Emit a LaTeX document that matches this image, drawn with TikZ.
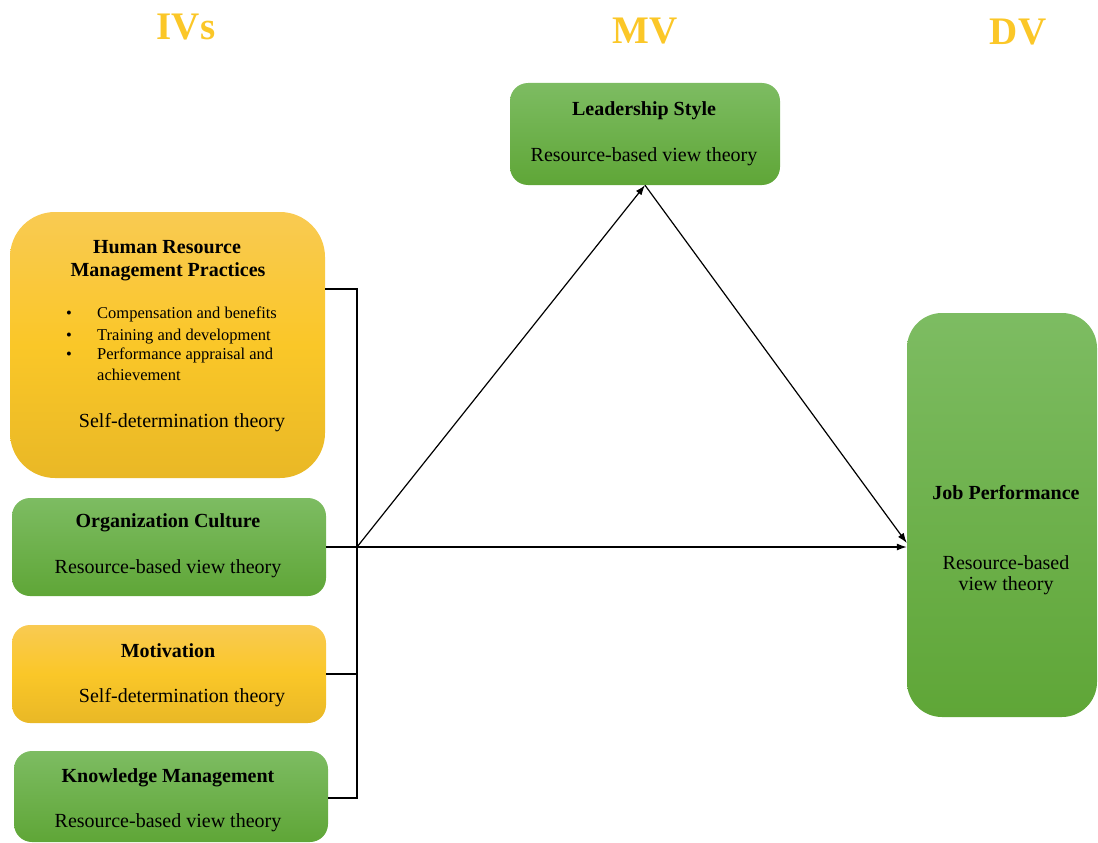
\documentclass[tikz,border=0pt]{standalone}
\usepackage{fontspec}
\setmainfont{Liberation Serif}
\usetikzlibrary{arrows.meta}
\definecolor{greentop}{RGB}{125,188,98}
\definecolor{greenbot}{RGB}{95,166,55}
\definecolor{goldtop}{RGB}{249,202,82}
\definecolor{goldmid}{RGB}{250,199,40}
\definecolor{goldbot}{RGB}{233,184,38}
\definecolor{headgold}{RGB}{251,199,40}
\tikzset{
  greenbox/.style={rounded corners=18pt, top color=greentop, bottom color=greenbot, draw=none, inner sep=0pt},
  goldbox/.style={rounded corners=18pt, top color=goldtop, bottom color=goldbot, middle color=goldmid, draw=none, inner sep=0pt},
  heading/.style={anchor=base, text=headgold, font=\fontsize{39}{44}\selectfont\bfseries},
  boxtitle/.style={anchor=base, inner sep=0pt, font=\fontsize{20}{24}\selectfont\bfseries},
  boxtext/.style={anchor=base, inner sep=0pt, font=\fontsize{20}{24}\selectfont},
  itemtext/.style={anchor=base west, inner sep=0pt, font=\fontsize{16.5}{20}\selectfont},
  linkline/.style={line width=1.2pt},
  arrowline/.style={line width=1.2pt, -{Latex[length=10pt,width=7pt]}}
}
\begin{document}
\begin{tikzpicture}[x=1pt,y=-1pt]
  \useasboundingbox (0,0) rectangle (1098,843);
  % headings
  \node[heading] at (186,40) (ivs) {IVs};
  \node[heading] at (645,44) (mv) {MV};
  \node[heading] at (1018,45) (dv) {DV};
  % boxes
  \node[goldbox, rounded corners=45pt, minimum width=315pt, minimum height=266pt] at (167.5,345) (hrm) {};
  \node[greenbox, minimum width=314pt, minimum height=98pt] at (169,547) (oc) {};
  \node[goldbox, minimum width=314pt, minimum height=98pt] at (169,674) (mot) {};
  \node[greenbox, minimum width=314pt, minimum height=91pt] at (171,796.5) (km) {};
  \node[greenbox, minimum width=270pt, minimum height=102pt] at (645,134) (ls) {};
  \node[greenbox, rounded corners=35pt, minimum width=190pt, minimum height=404pt] at (1002,515) (jp) {};
  % box texts
  \node[boxtitle] at (167,253) (hrm1) {Human Resource};
  \node[boxtitle] at (168,276) (hrm2) {Management Practices};
  \node[itemtext] at (66,318) (dot1) {\textbullet};
  \node[itemtext] at (97,318) (item1) {Compensation and benefits};
  \node[itemtext] at (66,340) (dot2) {\textbullet};
  \node[itemtext] at (97,340) (item2) {Training and development};
  \node[itemtext] at (66,359) (dot3) {\textbullet};
  \node[itemtext] at (97,359) (item3) {Performance appraisal and};
  \node[itemtext] at (97,380) (item4) {achievement};
  \node[boxtext] at (182,427) (hrmth) {Self-determination theory};
  \node[boxtitle] at (168,527) (oc1) {Organization Culture};
  \node[boxtext] at (168,573) (octh) {Resource-based view theory};
  \node[boxtitle] at (168,657) (mot1) {Motivation};
  \node[boxtext] at (182,702) (motth) {Self-determination theory};
  \node[boxtitle] at (168,782) (km1) {Knowledge Management};
  \node[boxtext] at (168,827) (kmth) {Resource-based view theory};
  \node[boxtitle] at (644,115) (ls1) {Leadership Style};
  \node[boxtext] at (644,161) (lsth) {Resource-based view theory};
  \node[boxtitle] at (1006,499) (jp1) {Job Performance};
  \node[boxtext, anchor=center, align=center, font=\fontsize{20}{21}\selectfont] at (1006,575) (jpth) {Resource-based\\view theory};
  % connectors
  \coordinate (jn) at (357,547);
  \coordinate (bartop) at (357,289);
  \coordinate (barbot) at (357,798);
  \draw[linkline] (hrm.east |- bartop) -- (bartop) -- (barbot) -- (km.east |- barbot);
  \draw[linkline] (oc.east) -- (jn);
  \draw[linkline] (mot.east) -- (mot.east -| jn);
  \draw[arrowline] (jn) -- (jp.west |- jn);
  \draw[arrowline] (jn) -- (ls.south);
  \draw[arrowline] (ls.south) -- ([yshift=-28pt]jp.west);
\end{tikzpicture}
\end{document}
